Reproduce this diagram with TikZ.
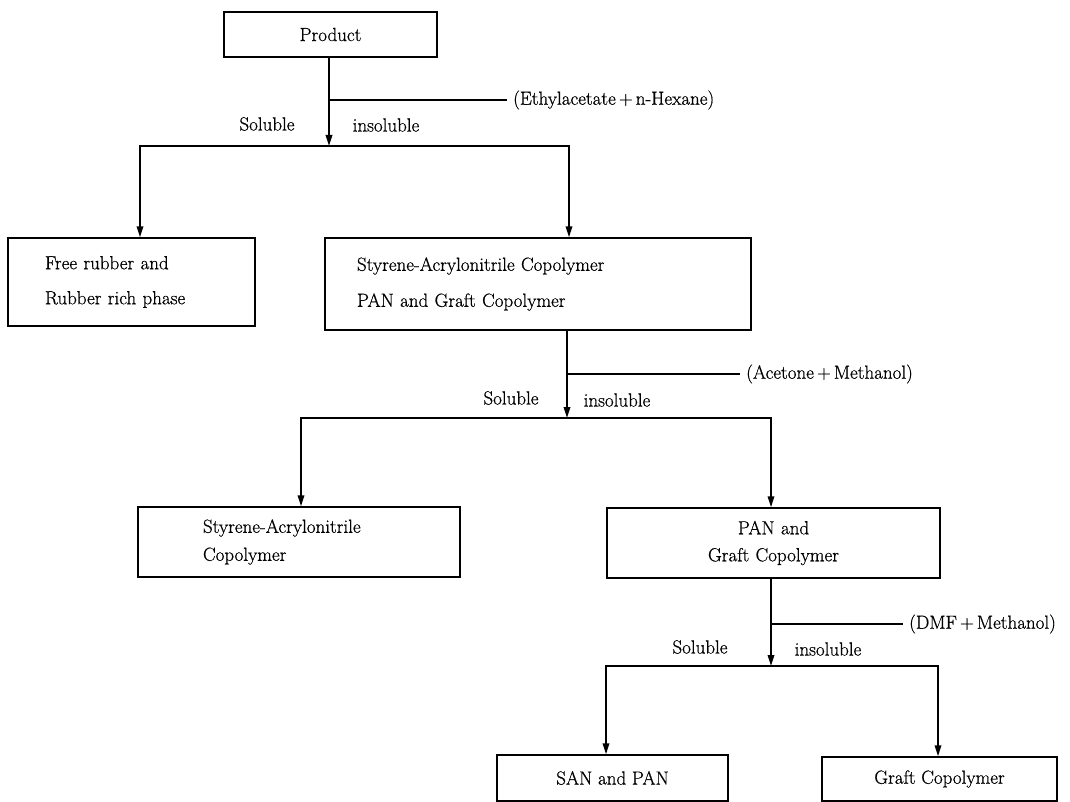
\documentclass[tikz,border=0pt]{standalone}
\usepackage{fontspec}
\setmainfont{Latin Modern Roman}[FakeBold=0.6]
\usetikzlibrary{arrows.meta,calc}
\begin{document}
\begin{tikzpicture}[x=1pt,y=-1pt,
  box/.style={draw, line width=1.4pt, inner sep=0pt, font=\fontsize{19}{23}\selectfont},
  conn/.style={line width=1.7pt},
  arr/.style={conn, -{Triangle[length=11pt,width=6.5pt]}},
  side/.style={line width=1.3pt},
  lbl/.style={font=\fontsize{19}{23}\selectfont, inner sep=0pt},
  solv/.style={lbl, anchor=west, inner xsep=6pt}
]
\useasboundingbox (0,0) rectangle (1070,802);

% boxes
\node[box, minimum width=213pt, minimum height=45pt] (prod) at (330.5,34.5) {Product};
\node[box, minimum height=88pt, text width=173pt, align=left, inner xsep=37pt,
      font=\fontsize{19}{35}\selectfont] (free) at (131.5,282) {Free rubber and\\Rubber rich phase};
\node[box, minimum height=92pt, text width=362pt, align=left, inner xsep=32pt,
      font=\fontsize{19}{36}\selectfont] (sapg) at (538,284) {Styrene-Acrylonitrile Copolymer\\PAN and Graft Copolymer};
\node[box, minimum height=70pt, text width=192pt, align=left, inner xsep=65pt,
      font=\fontsize{19}{28}\selectfont] (sa) at (299,542) {Styrene-Acrylonitrile\\Copolymer};
\node[box, minimum height=70pt, text width=333pt, align=center, inner xsep=0pt,
      font=\fontsize{19}{27}\selectfont] (pg) at (773.5,543) {PAN and\\Graft Copolymer};
\node[box, minimum width=231pt, minimum height=46pt] (sp) at (612.5,778) {SAN and PAN};
\node[box, minimum width=235pt, minimum height=44pt] (gc) at (939.5,779) {Graft Copolymer};

% stage 1
\coordinate (j1) at (329,146);
\coordinate (j1l) at (140,146);
\coordinate (j1r) at (569,146);
\draw[arr] (j1 |- prod.south) -- (j1);
\node[solv] (sol1) at (507,100) {(Ethylacetate\,+\,n-Hexane)};
\draw[side] (j1 |- sol1.west) -- (sol1.west);
\node[lbl] (s1) at (267,124) {Soluble};
\node[lbl] (i1) at (386,125) {insoluble};
\draw[arr] (j1) -- (j1l) -- (j1l |- free.north);
\draw[arr] (j1) -- (j1r) -- (j1r |- sapg.north);

% stage 2
\coordinate (j2) at (567,418);
\coordinate (j2l) at (301,418);
\coordinate (j2r) at (771,418);
\draw[arr] (j2 |- sapg.south) -- (j2);
\node[solv] (sol2) at (740,374) {(Acetone\,+\,Methanol)};
\draw[side] (j2 |- sol2.west) -- (sol2.west);
\node[lbl] (s2) at (511,398) {Soluble};
\node[lbl] (i2) at (617,400) {insoluble};
\draw[arr] (j2) -- (j2l) -- (j2l |- sa.north);
\draw[arr] (j2) -- (j2r) -- (j2r |- pg.north);

% stage 3
\coordinate (j3) at (771,666);
\coordinate (j3l) at (606,666);
\coordinate (j3r) at (938,666);
\draw[arr] (j3 |- pg.south) -- (j3);
\node[solv] (sol3) at (903,624) {(DMF\,+\,Methanol)};
\draw[side] (j3 |- sol3.west) -- (sol3.west);
\node[lbl] (s3) at (700,647) {Soluble};
\node[lbl] (i3) at (828,649) {insoluble};
\draw[arr] (j3) -- (j3l) -- (j3l |- sp.north);
\draw[arr] (j3) -- (j3r) -- (j3r |- gc.north);
\end{tikzpicture}
\end{document}
